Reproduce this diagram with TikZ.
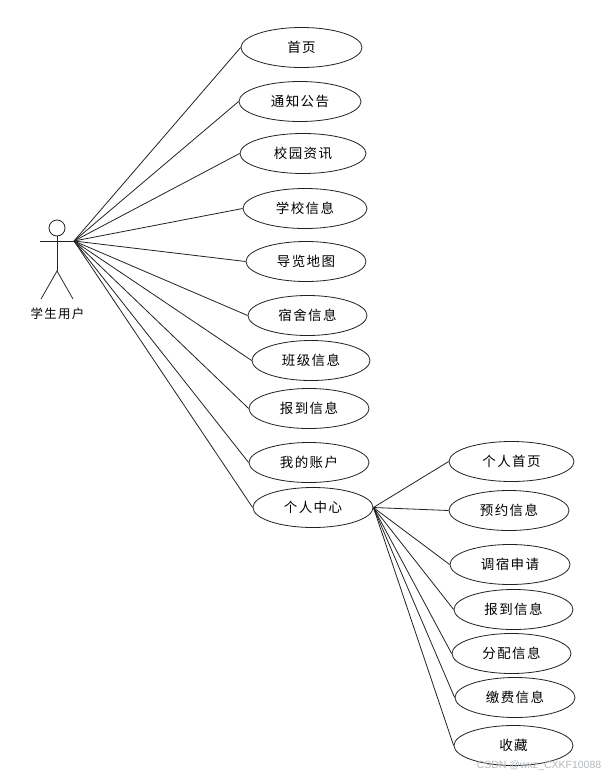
\documentclass[tikz,border=0pt]{standalone}
\usepackage{fontspec}
\setmainfont{Liberation Sans}
\newfontfamily\cjk[LetterSpace=10]{Noto Sans CJK SC}
\usepackage{xcolor}
\usetikzlibrary{shapes.geometric}
\definecolor{inkline}{HTML}{222222}
\definecolor{marktext}{HTML}{B4B8BC}
\tikzset{
    usecase/.style={ellipse, draw=inkline, line width=0.8pt, fill=white, inner sep=0pt,
        minimum height=40pt, font=\cjk\fontsize{13.5}{15}\selectfont},
    link/.style={draw=inkline, line width=0.8pt},
    actorline/.style={draw=inkline, line width=0.8pt}
}
\begin{document}
\begin{tikzpicture}[x=1pt, y=-1pt]
\useasboundingbox (0,0) rectangle (610,777);
% Actor
\node[circle, draw=inkline, line width=0.8pt, minimum size=16pt, inner sep=0pt] (head) at (57,228) {};
\coordinate (hip) at (57,271);
\coordinate (hub) at (74,241);
\coordinate (handl) at (40,241);
\coordinate (footl) at (41,299);
\coordinate (footr) at (73,299);
\draw[actorline] (head.south) -- (hip);
\draw[actorline] (handl) -- (hub);
\draw[actorline] (footl) -- (hip) -- (footr);
\node[font=\cjk\fontsize{12.5}{14}\selectfont] (student) at (57.5,313.5) {学生用户};
% Use cases of the student
\foreach \nm/\x/\y/\wid/\txt in {
    home/301.5/47.5/121/首页,
    notice/300/101.5/122/通知公告,
    news/303/153.5/126/校园资讯,
    school/305/208.5/124/学校信息,
    map/306/261.5/120/导览地图,
    dorm/307.5/315.5/119/宿舍信息,
    class/311/360.5/118/班级信息,
    report/309/408.5/120/报到信息,
    account/309/462.5/120/我的账户,
    center/313/507.5/120/个人中心}{
    \node[usecase, minimum width=\wid pt] (\nm) at (\x,\y) {\txt};
    \draw[link] (hub) -- (\nm.west);
}
% Use cases of the personal centre
\foreach \nm/\x/\y/\wid/\txt in {
    chome/511.5/461.5/125/个人首页,
    booking/509/510.5/120/预约信息,
    change/510/564.5/120/调宿申请,
    creport/513.5/609.5/119/报到信息,
    assign/511.5/653.5/119/分配信息,
    fees/515/697.5/120/缴费信息,
    favour/513.5/745.5/119/收藏}{
    \node[usecase, minimum width=\wid pt] (\nm) at (\x,\y) {\txt};
    \draw[link] (center.east) -- (\nm.west);
}
% Watermark
\node[font=\fontsize{10.5}{13}\selectfont, text=marktext] (mark) at (539,766) {CSDN @wxz\_CXKF10088};
\end{tikzpicture}
\end{document}
